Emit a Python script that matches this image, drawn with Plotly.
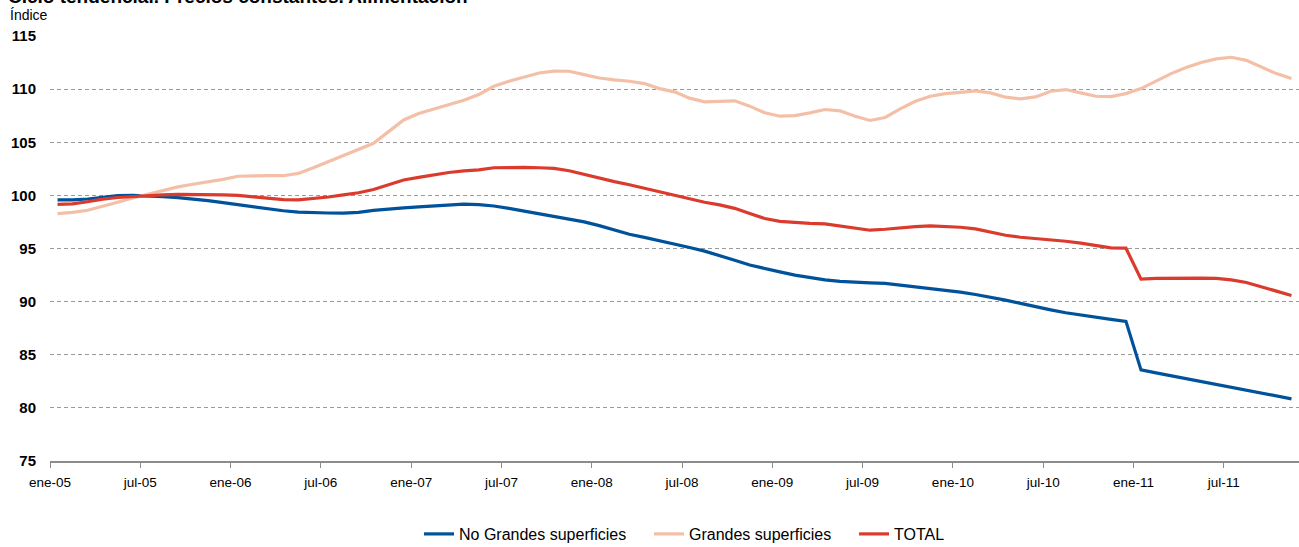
import plotly.graph_objects as go

months = ["ene", "feb", "mar", "abr", "may", "jun", "jul", "ago", "sep", "oct", "nov", "dic"]
categories = [f"{m}-{y:02d}" for y in range(5, 12) for m in months][:83]

no_grandes = [99.57, 99.57, 99.66, 99.85, 99.97, 100.0, 99.97, 99.87, 99.78, 99.66,
              99.5, 99.31, 99.12, 98.92, 98.72, 98.55, 98.43, 98.37, 98.34, 98.33,
              98.4, 98.58, 98.72, 98.83, 98.92, 99.0, 99.08, 99.17, 99.13, 99.0,
              98.78, 98.53, 98.28, 98.03, 97.78, 97.5, 97.15, 96.72, 96.34, 96.05,
              95.75, 95.45, 95.1, 94.75, 94.35, 93.9, 93.45, 93.1, 92.8, 92.5,
              92.27, 92.05, 91.9, 91.8, 91.77, 91.71, 91.55, 91.39, 91.24, 91.08,
              90.89, 90.67, 90.42, 90.14, 89.83, 89.51, 89.23, 88.95, 88.73, 88.48,
              88.33, 88.14, 83.57, 83.3, 83.02, 82.75, 82.48, 82.21, 81.93, 81.66,
              81.39, 81.12, 80.85]

grandes = [98.28, 98.4, 98.6, 98.94, 99.35, 99.75, 100.1, 100.44, 100.8, 101.05,
           101.25, 101.5, 101.8, 101.85, 101.85, 101.85, 102.07, 102.6, 103.17, 103.7,
           104.26, 104.9, 106.0, 107.1, 107.7, 108.1, 108.5, 108.95, 109.5, 110.27,
           110.74, 111.15, 111.52, 111.7, 111.68, 111.37, 111.05, 110.87, 110.74, 110.52,
           110.05, 109.74, 109.15, 108.8, 108.86, 108.9, 108.4, 107.77, 107.45, 107.5,
           107.77, 108.08, 107.96, 107.45, 107.05, 107.33, 108.14, 108.86, 109.33, 109.58,
           109.7, 109.83, 109.65, 109.24, 109.08, 109.27, 109.8, 109.96, 109.65, 109.33,
           109.3, 109.58, 110.05, 110.74, 111.46, 112.03, 112.5, 112.84, 113.0, 112.71,
           112.06, 111.46, 111.0]

total = [99.15, 99.2, 99.4, 99.65, 99.8, 99.9, 100.0, 100.05, 100.1, 100.1,
         100.1, 100.05, 100.0, 99.85, 99.75, 99.6, 99.57, 99.7, 99.85, 100.05,
         100.25, 100.55, 101.0, 101.45, 101.7, 101.95, 102.15, 102.3, 102.4, 102.6,
         102.63, 102.63, 102.6, 102.54, 102.32, 101.97, 101.6, 101.29, 101.0, 100.66,
         100.35, 100.05, 99.7, 99.35, 99.1, 98.78, 98.3, 97.82, 97.56, 97.43,
         97.37, 97.31, 97.12, 96.9, 96.72, 96.81, 96.97, 97.06, 97.12, 97.09,
         97.0, 96.84, 96.56, 96.25, 96.06, 95.93, 95.84, 95.68, 95.5, 95.25,
         95.06, 95.03, 92.11, 92.18, 92.21, 92.21, 92.21, 92.18, 92.05, 91.8,
         91.42, 90.99, 90.58]

tick_labels = ["ene-05", "jul-05", "ene-06", "jul-06", "ene-07", "jul-07", "ene-08",
               "jul-08", "ene-09", "jul-09", "ene-10", "jul-10", "ene-11", "jul-11"]
y_ticks = [75, 80, 85, 90, 95, 100, 105, 110, 115]

idx = list(range(len(categories)))
font = "Liberation Sans, Arial, sans-serif"
pad = "\u00a0" * 4

fig = go.Figure()
series = [
    ("No Grandes superficies", no_grandes, "#00529B", pad),
    ("Grandes superficies", grandes, "#F4BFA7", pad),
    ("TOTAL", total, "#DA3B2C", ""),
]
for name, vals, col, tail in series:
    fig.add_trace(go.Scatter(x=idx, y=vals, mode="lines", name=name + tail,
                             customdata=categories,
                             line=dict(color=col, width=3.2),
                             hovertemplate="%{customdata}: %{y}<extra>" + name + "</extra>"))

fig.update_layout(
    width=1299, height=547,
    margin=dict(l=50, r=0, t=36, b=86, autoexpand=False),
    paper_bgcolor="white", plot_bgcolor="white",
    font=dict(family=font, size=14, color="black"),
    showlegend=True,
    legend=dict(orientation="h", x=0.508, xanchor="center", y=(461 - 534) / 425,
                yanchor="middle", font=dict(size=16, family=font),
                itemwidth=30, traceorder="normal"),
    xaxis=dict(range=[-0.5, 82.5], tickmode="array", automargin=False,
               tickvals=[i * 6 - 0.5 for i in range(len(tick_labels))],
               ticktext=tick_labels, showgrid=False, zeroline=False,
               showline=True, linecolor="#8c8c8c", linewidth=1.5,
               ticks="outside", ticklen=5, tickcolor="#8c8c8c",
               tickfont=dict(size=13.5, family=font), ticklabelstandoff=3),
    yaxis=dict(range=[75, 115], tickvals=y_ticks, showgrid=True, automargin=False,
               gridcolor="#9a9a9a", griddash="4px,3px", gridwidth=1,
               zeroline=False, showline=False, ticks="",
               tickfont=dict(size=15, family=font, weight="bold"),
               ticklabelstandoff=13),
    annotations=[
        dict(text="<b>Ciclo tendencial. Precios constantes. Alimentación</b>",
             xref="paper", yref="paper", x=-0.035, y=(461 - 9) / 425,
             xanchor="left", yanchor="bottom", showarrow=False,
             font=dict(size=19, family=font, color="black")),
        dict(text="Índice", xref="paper", yref="paper", x=-0.034, y=(461 - 15) / 425,
             xanchor="left", yanchor="middle", showarrow=False,
             font=dict(size=14, family=font)),
    ],
)

fig.write_html("out.html", config={"displayModeBar": False},
               post_script="document.body.style.margin='0px';document.body.style.overflow='hidden';")
